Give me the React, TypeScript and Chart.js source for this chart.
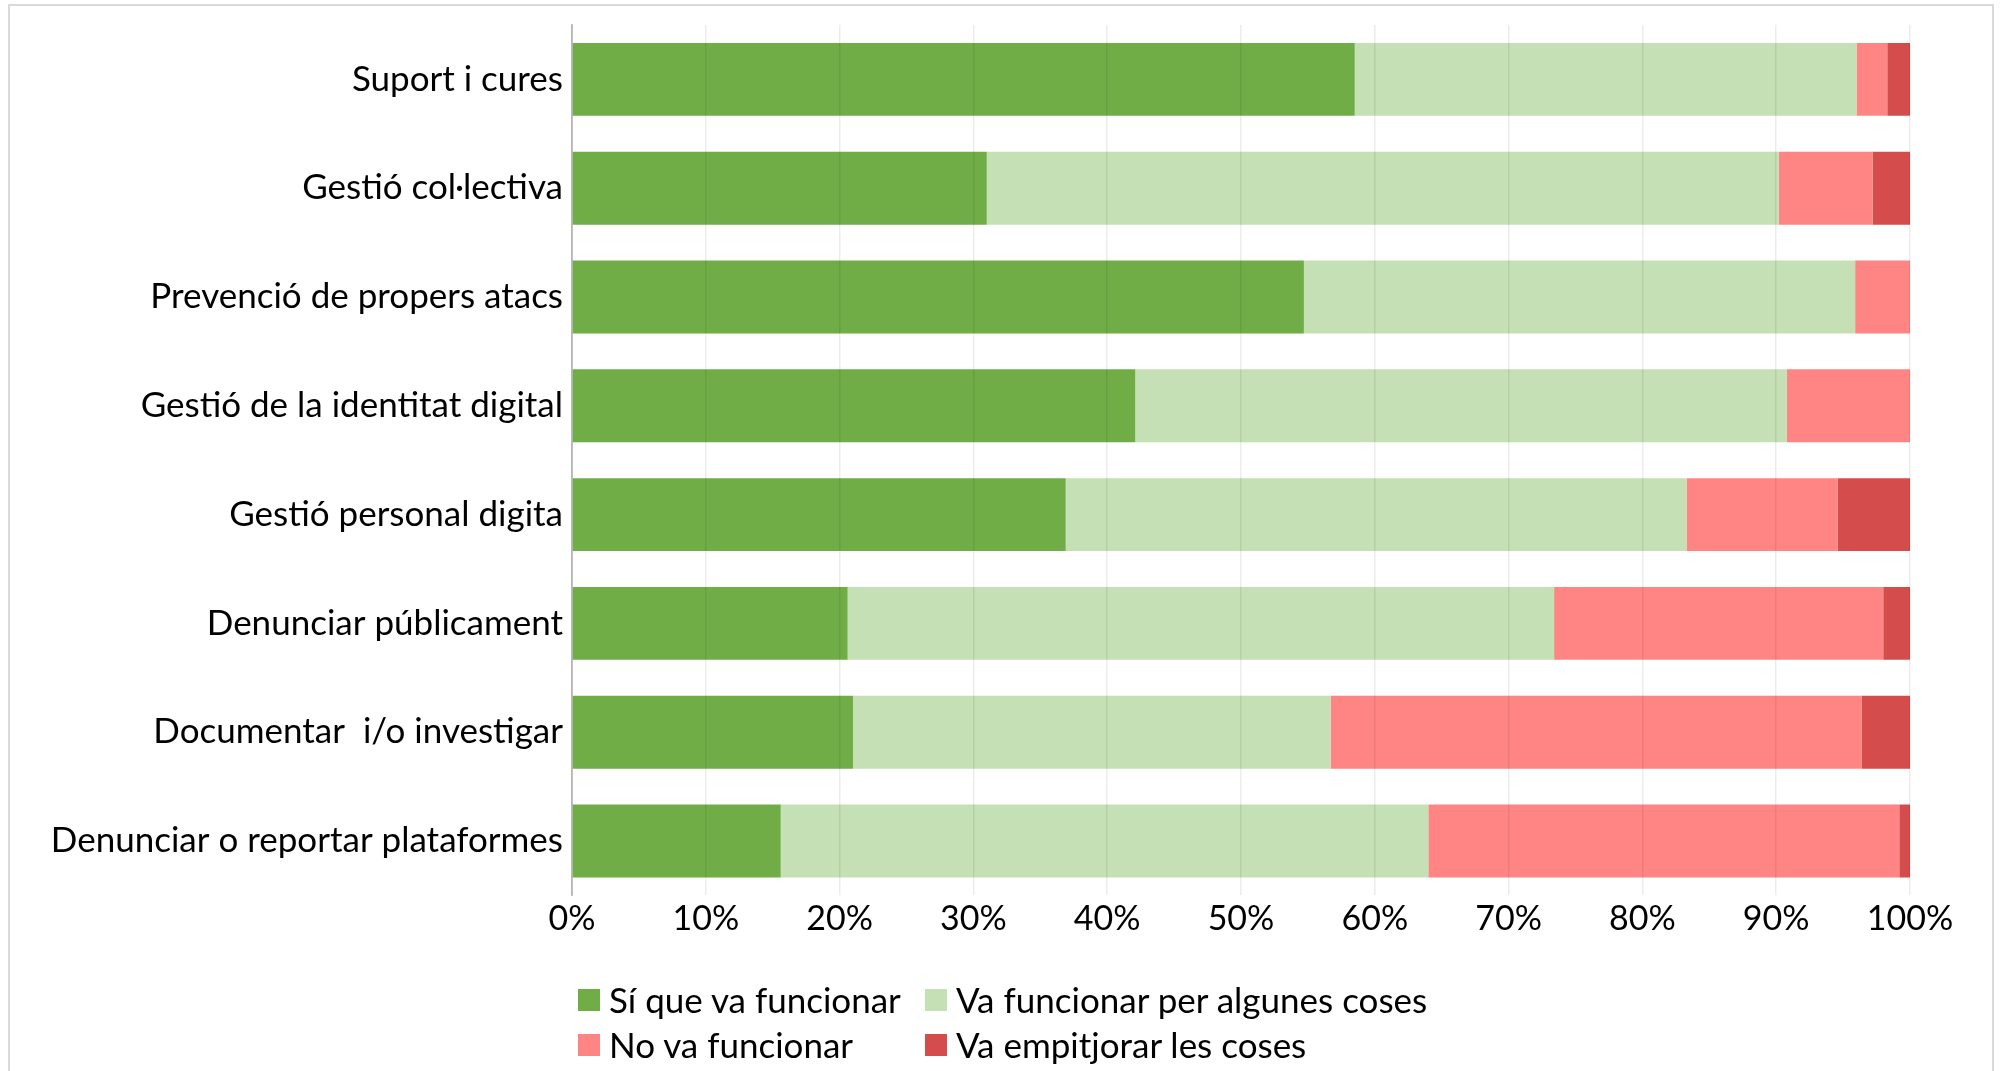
import React, { useEffect, useRef } from "react";
import { Chart, registerables } from "chart.js";

Chart.register(...registerables);

const categories = [
  "Suport i cures",
  "Gestió col·lectiva",
  "Prevenció de propers atacs",
  "Gestió de la identitat digital",
  "Gestió personal digita",
  "Denunciar públicament",
  "Documentar  i/o investigar",
  "Denunciar o reportar plataformes",
];

const seriesNames = [
  "Sí que va funcionar",
  "Va funcionar per algunes coses",
  "No va funcionar",
  "Va empitjorar les coses",
];

const siFunciona = [58.5, 31.0, 54.7, 42.1, 36.9, 20.6, 21.0, 15.6];
const algunesCoses = [37.5, 59.2, 41.2, 48.7, 46.4, 52.8, 35.7, 48.4];
const noFunciona = [2.3, 7.0, 4.1, 9.2, 11.3, 24.6, 39.7, 35.2];
const empitjora = [1.7, 2.8, 0, 0, 5.4, 2.0, 3.6, 0.8];

const colors = ["#70AD47", "#C5E0B4", "#FF8585", "#D44C4C"];

const FONT = "Lato";

export default function App() {
  const ref = useRef<HTMLCanvasElement | null>(null);

  useEffect(() => {
    document.body.style.overflow = "hidden";
    const ctx = ref.current;
    if (!ctx) return;
    const values = [siFunciona, algunesCoses, noFunciona, empitjora];
    const chart = new Chart(ctx, {
      type: "bar",
      data: {
        labels: categories,
        datasets: seriesNames.map((name, i) => ({
          label: name,
          data: values[i],
          backgroundColor: colors[i],
          borderWidth: 0,
          barPercentage: 0.67,
          categoryPercentage: 1,
        })),
      },
      options: {
        indexAxis: "y",
        responsive: false,
        animation: false,
        devicePixelRatio: 1,
        layout: { padding: { top: 30, left: 0, right: 96, bottom: 115.6 } },
        plugins: {
          legend: { display: false },
          tooltip: { enabled: false },
        },
        scales: {
          x: {
            stacked: true,
            min: 0,
            max: 100,
            afterFit: (s: any) => {
              s.height = 60;
            },
            ticks: {
              stepSize: 10,
              padding: 3,
              color: "#000",
              font: { family: FONT, size: 34 },
              callback: (v: any) => v + "%",
            },
            grid: {
              drawTicks: false,
              color: "rgba(0,0,0,0.075)",
              lineWidth: 1.5,
              z: 1,
            },
            border: { display: false },
          },
          y: {
            stacked: true,
            afterFit: (s: any) => {
              s.width = 572;
            },
            ticks: {
              padding: 9,
              color: "#000",
              font: { family: FONT, size: 35 },
            },
            grid: { display: false, drawTicks: false },
            border: { display: true, color: "#c6c6c6", width: 2 },
          },
        },
      },
    });
    return () => chart.destroy();
  }, []);

  return (
    <div>
      <div
        style={{
          position: "absolute",
          left: 8,
          top: 4,
          width: 1986,
          height: 1067,
          boxSizing: "border-box",
          border: "2px solid #d9d9d9",
          borderBottom: "none",
        }}
      />
      <canvas
        ref={ref}
        width={2006}
        height={1076}
        style={{ position: "absolute", left: 0, top: -5, width: 2006, height: 1076 }}
      />
      <div
        style={{
          position: "absolute",
          left: 578,
          top: 977,
          display: "grid",
          gridTemplateColumns: "347px auto",
          gridAutoRows: "45px",
          fontFamily: FONT,
          fontSize: 35,
          color: "#000",
        }}
      >
        {seriesNames.map((name, i) => (
          <div key={name} style={{ display: "flex", alignItems: "center", whiteSpace: "nowrap" }}>
            <span
              style={{
                display: "inline-block",
                width: 22,
                height: 22,
                background: colors[i],
                marginRight: 9,
                flex: "none",
              }}
            />
            <span style={{ lineHeight: "45px" }}>{name}</span>
          </div>
        ))}
      </div>
    </div>
  );
}
